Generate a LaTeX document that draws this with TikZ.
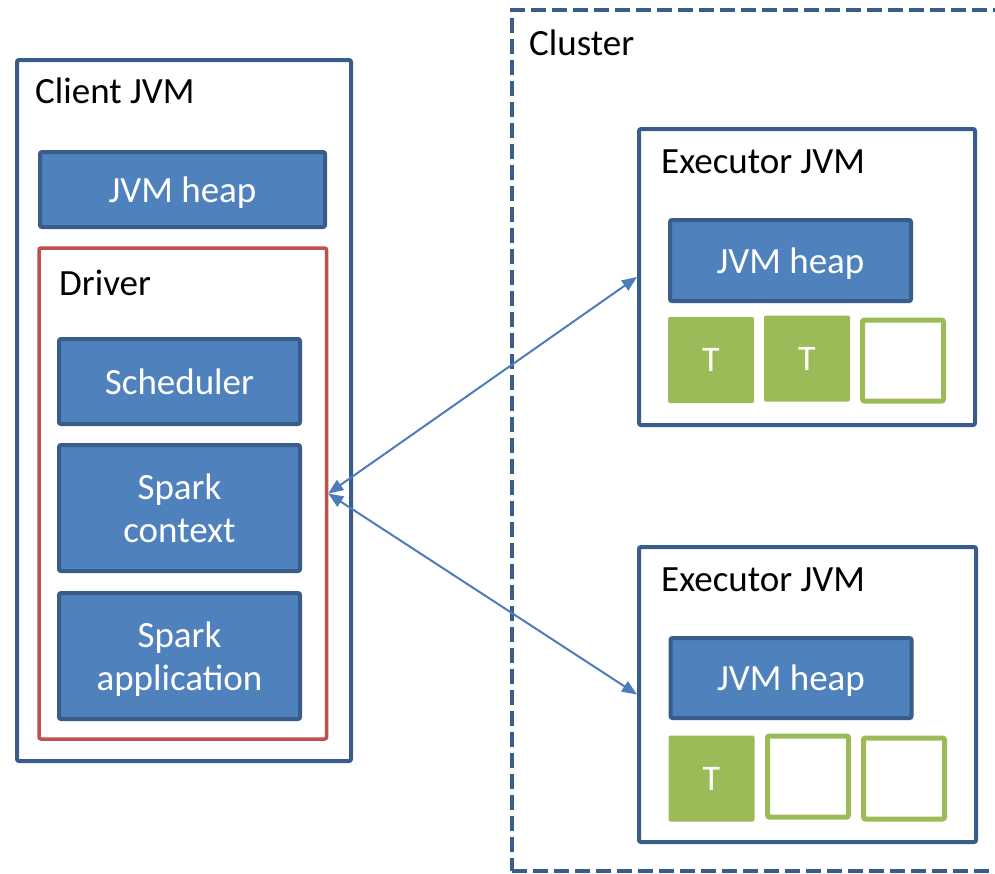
\documentclass[tikz,border=0pt]{standalone}
\usepackage{fontspec}
\setmainfont{Carlito}
\usetikzlibrary{arrows.meta}
\definecolor{boxfill}{HTML}{4F81BD}
\definecolor{boxline}{HTML}{385D8A}
\definecolor{drvred}{HTML}{C0504D}
\definecolor{taskgreen}{HTML}{9BBB59}
\definecolor{linkblue}{HTML}{4A7EBB}
\tikzset{
  txt/.style={font=\fontsize{37}{43}\selectfont},
  frame/.style={draw=boxline, line width=4pt, fill=white, rounded corners=2pt, inner sep=0pt},
  bluebox/.style={draw=boxline, line width=4pt, fill=boxfill, rounded corners=2pt, inner sep=0pt,
    text=white, txt, align=center},
  oneline/.style={text height=26pt, text depth=1pt},
  drvframe/.style={draw=drvred, line width=3.5pt, rounded corners=2pt, inner sep=0pt},
  clusterframe/.style={draw=boxline, line width=4pt, dash pattern=on 15pt off 6pt, inner sep=0pt},
  busytask/.style={fill=taskgreen, rounded corners=2pt, inner sep=0pt, minimum size=86pt,
    text=white, font=\fontsize{36}{40}\selectfont},
  freetask/.style={draw=taskgreen, line width=5pt, rounded corners=2pt, inner sep=0pt, minimum size=81pt},
  label/.style={txt, anchor=base west, inner sep=0pt},
  link/.style={draw=linkblue, line width=2pt, {Triangle[length=15pt,width=12pt]}-{Triangle[length=15pt,width=12pt]}}
}
\begin{document}
\begin{tikzpicture}[x=1pt, y=-1pt]
\useasboundingbox (0,0) rectangle (995,873);
\begin{scope}
\clip (0,0) rectangle (995,873);
% cluster (open to the right)
\node[clusterframe, minimum width=500pt, minimum height=861pt] (cluster) at (762,440.5) {};
\end{scope}
\node[label] (clusterlbl) at (529,55) {Cluster};

% client JVM
\node[frame, minimum width=334pt, minimum height=701pt] (client) at (184,410.5) {};
\node[label] (clientlbl) at (35,103) {Client JVM};
\node[bluebox, oneline, minimum width=285pt, minimum height=75pt] (cheap) at (182.5,189.5) {JVM heap};
\node[drvframe, minimum width=287.5pt, minimum height=491pt] (driver) at (182.75,493.5) {};
\node[label] (driverlbl) at (59,295) {Driver};
\node[bluebox, oneline, minimum width=241pt, minimum height=85pt] (sched) at (179.5,381.5) {Scheduler};
\node[bluebox, minimum width=241pt, minimum height=126pt] (sctx) at (179.5,508) {Spark\\context};
\node[bluebox, minimum width=241pt, minimum height=126pt] (sapp) at (179.5,656) {Spark\\\smash{application}};

% executor 1
\node[frame, minimum width=336pt, minimum height=296pt] (exa) at (807,277) {};
\node[label] (exalbl) at (661,173) {Executor JVM};
\node[bluebox, oneline, minimum width=241pt, minimum height=81pt] (exaheap) at (790.5,260.5) {JVM heap};
\node[busytask] (exat1) at (711,360) {T};
\node[busytask] (exat2) at (807,358.5) {T};
\node[freetask] (exat3) at (903,360.5) {};

% executor 2
\node[frame, minimum width=337pt, minimum height=295pt] (exb) at (807.5,694.5) {};
\node[label] (exblbl) at (661,591) {Executor JVM};
\node[bluebox, oneline, minimum width=241pt, minimum height=80pt] (exbheap) at (791,678) {JVM heap};
\node[busytask] (exbt1) at (711.5,778.5) {T};
\node[freetask] (exbt2) at (808,776.5) {};
\node[freetask] (exbt3) at (904,778.5) {};

% driver <-> executors
\draw[link] (driver.east) -- (exa.west);
\draw[link] (driver.east) -- (exb.west);
\end{tikzpicture}
\end{document}
